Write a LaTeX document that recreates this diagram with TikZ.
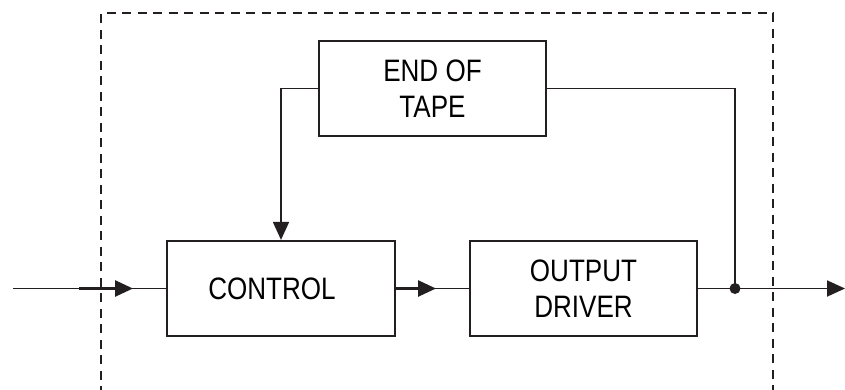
\documentclass[tikz,border=0pt]{standalone}
\usepackage{fontspec}
\setmainfont[FakeStretch=0.84]{Liberation Sans}
\usetikzlibrary{arrows.meta}
\definecolor{ink}{HTML}{231F20}
\begin{document}
\begin{tikzpicture}[x=1pt,y=-1pt,
  blk/.style={draw=ink, line width=2.2pt, fill=none, inner sep=0pt,
    align=center, font=\fontsize{31}{36}\selectfont, text=black},
  wire/.style={draw=ink, line width=1.8pt},
  heavywire/.style={draw=ink, line width=2.6pt},
  tip/.style={-{Triangle[length=18pt,width=16pt]}},
  boundary/.style={draw=ink, line width=1.9pt, dash pattern=on 9pt off 6.5pt}]
  \useasboundingbox (0,0) rectangle (845,389);

  % enclosing dashed outline, open at the bottom
  \draw[boundary] (101,395) -- (101,13) -- (773,13) -- (773,395);

  % function blocks
  \node[blk, minimum width=227pt, minimum height=95pt] (eot) at (432.5,88.5) {END OF\\TAPE};
  \node[blk, minimum width=228pt, minimum height=95pt] (ctrl) at (281,288.5) {};
  \node[font=\fontsize{31}{36}\selectfont, text=black] at (272,288.5) {CONTROL};
  \node[blk, minimum width=227pt, minimum height=95pt] (out) at (583.5,288.5) {OUTPUT\\DRIVER};

  % signal path
  \coordinate (in) at (13,288.5);
  \coordinate (inA) at (79,288.5);
  \coordinate (inT) at (133,288.5);
  \coordinate (midT) at (436,288.5);
  \coordinate (dot) at (735,288.5);
  \coordinate (outend) at (845,288.5);

  \draw[wire] (in) -- (ctrl.west);
  \draw[heavywire, tip] (inA) -- (inT);

  \draw[wire] (ctrl.east) -- (out.west);
  \draw[heavywire, tip] (ctrl.east) -- (midT);

  \draw[wire, tip] (out.east) -- (outend);

  % end-of-tape feedback
  \draw[wire, tip] (eot.west) -| (ctrl.north);
  \draw[wire] (eot.east) -| (dot);
  \fill[ink] (dot) circle (5.5pt);
\end{tikzpicture}
\end{document}
